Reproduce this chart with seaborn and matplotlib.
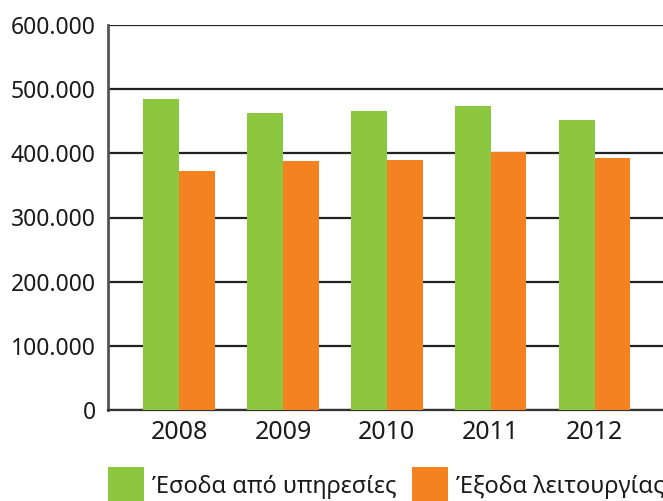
import matplotlib
matplotlib.use("Agg")
import matplotlib.pyplot as plt
from matplotlib.ticker import FuncFormatter
from matplotlib.patches import Patch
import seaborn as sns
import pandas as pd

years = ["2008", "2009", "2010", "2011", "2012"]
revenue = [484000, 462500, 465500, 473500, 451500]   # Έσοδα από υπηρεσίες
expenses = [372500, 388500, 389500, 402000, 392500]  # Έξοδα λειτουργίας
series_names = ["Έσοδα από υπηρεσίες", "Έξοδα λειτουργίας"]
colors = ["#8DC63F", "#F48220"]

df = pd.DataFrame({
    "year": years * 2,
    "value": revenue + expenses,
    "series": [series_names[0]] * len(years) + [series_names[1]] * len(years),
})

sns.set_theme(style="white")
plt.rcParams["font.family"] = ["Noto Sans", "DejaVu Sans"]

fig = plt.figure(figsize=(6.63, 5.01), dpi=100)
ax = fig.add_axes([108 / 663, 1 - 410 / 501, 1 - 108 / 663 + 0.004, (410 - 25) / 501])

sns.barplot(data=df, x="year", y="value", hue="series", palette=colors,
            width=0.69, gap=0, saturation=1, linewidth=0, ax=ax,
            legend=False, zorder=3)

ax.set_ylim(0, 600000)
ax.set_xlim(-0.685, 4.685)
ax.set_yticks(range(0, 600001, 100000))
ax.yaxis.set_major_formatter(FuncFormatter(lambda v, p: f"{int(v):,}".replace(",", ".")))
ax.grid(axis="y", color="#222222", linewidth=1.6, zorder=0)
ax.set_axisbelow(True)
ax.set_xlabel("")
ax.set_ylabel("")

for side in ["top", "right"]:
    ax.spines[side].set_visible(False)
ax.spines["left"].set_color("#555555")
ax.spines["left"].set_linewidth(2)
ax.spines["bottom"].set_color("#333333")
ax.spines["bottom"].set_linewidth(1.6)

ax.tick_params(axis="y", length=0, pad=9, labelsize=16.5, labelcolor="#1a1a1a")
ax.tick_params(axis="x", length=0, pad=7, labelsize=18, labelcolor="#1a1a1a")

# one legend entry per series, each placed at its own spot along the bottom
for name, col, x0 in zip(series_names, colors, [108, 412]):
    fig.legend([Patch(facecolor=col, edgecolor="none")], [name],
               loc="lower left", bbox_to_anchor=(x0 / 663, -2 / 501),
               frameon=False, fontsize=17, handlelength=1.52, handleheight=1.96,
               handletextpad=0.34, borderpad=0, borderaxespad=0,
               labelcolor="#1a1a1a")

fig.savefig("out.png", dpi=100)
